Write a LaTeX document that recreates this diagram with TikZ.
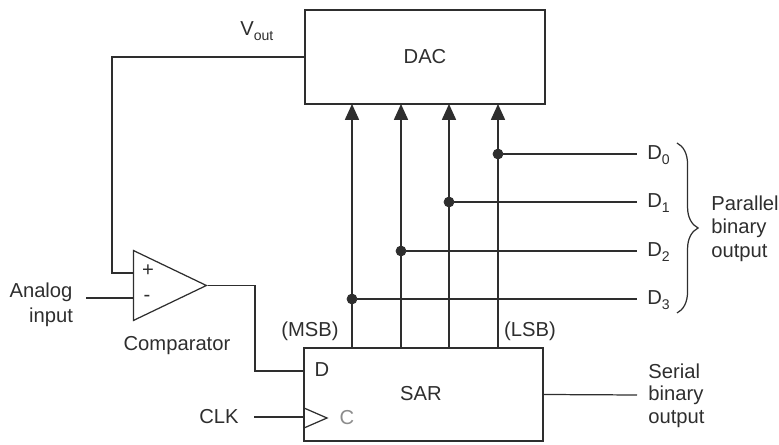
\documentclass[tikz,border=0pt]{standalone}
\usepackage{fontspec}
\setmainfont{Liberation Sans}
\usepackage{pgf, tikz}
\usetikzlibrary{arrows.meta,shapes.geometric,decorations.pathreplacing}
\pgfdeclarelayer{edgelayer}
\pgfdeclarelayer{nodelayer}
\pgfsetlayers{edgelayer,nodelayer,main}
\definecolor{ink}{HTML}{2E2E2E}
\newcommand{\lowsub}[1]{\raisebox{-3.2pt}{\fontsize{8}{9}\selectfont #1}}
\tikzstyle{edge}=[draw=ink, line width=0.7pt]
\tikzstyle{bus}=[draw=ink, line width=0.7pt, -{Triangle[length=9pt,width=8pt]}]
\tikzstyle{block}=[rectangle, draw=ink, fill=white, line width=0.7pt, minimum width=4.8cm, minimum height=1.88cm, inner sep=0pt]
\tikzstyle{opamp}=[isosceles triangle, isosceles triangle stretches, shape border rotate=0, draw=ink, fill=white, line width=0.7pt, minimum width=1.4cm, minimum height=1.46cm, inner sep=0pt]
\tikzstyle{tap}=[circle, fill=ink, draw=ink, minimum size=0.2cm, inner sep=0pt]
\tikzstyle{label}=[text=ink, font=\fontsize{11.5}{13}\selectfont, inner sep=0pt]

\begin{document}
\begin{tikzpicture}[x=0.02cm,y=-0.02cm]
	\useasboundingbox (0,0) rectangle (779,445);
	\begin{pgfonlayer}{nodelayer}
		\node [style=block] (dac) at (425,57) {};
		\node [style=block, minimum width=4.78cm, minimum height=1.86cm] (sar) at (423.5,394.5) {};
		\node [style=opamp, anchor=apex] (cmp) at (208,285.5) {};
		\node [style=tap] (t0) at (498,154) {};
		\node [style=tap] (t1) at (449,202) {};
		\node [style=tap] (t2) at (401,251) {};
		\node [style=tap] (t3) at (352,299) {};
		\node [style=label] (daclabel) at (425,57) {DAC};
		\node [style=label] (sarlabel) at (421,394) {SAR};
		\node [style=label, anchor=west] (vout) at (240,31) {V\lowsub{out}};
		\node [style=label] (plus) at (148,271) {+};
		\node [style=label] (minus) at (147,298) {-};
		\node [style=label] (analog) at (41,292) {Analog};
		\node [style=label] (input) at (51,317) {input};
		\node [style=label] (comparator) at (177,346) {Comparator};
		\node [style=label] (msb) at (310,331) {(MSB)};
		\node [style=label] (lsb) at (530,331) {(LSB)};
		\node [style=label] (d) at (322,370) {D};
		\node [style=label, text=ink!55] (c) at (347,418) {C};
		\node [style=label] (clk) at (219,417) {CLK};
		\node [style=label, anchor=west] (d0) at (647,155) {D\lowsub{0}};
		\node [style=label, anchor=west] (d1) at (647,203) {D\lowsub{1}};
		\node [style=label, anchor=west] (d2) at (647,252) {D\lowsub{2}};
		\node [style=label, anchor=west] (d3) at (647,300) {D\lowsub{3}};
		\node [style=label, anchor=west] (parallel) at (711,203) {Parallel};
		\node [style=label, anchor=west] (binary) at (711,228) {binary};
		\node [style=label, anchor=west] (output) at (711,253) {output};
		\node [style=label, anchor=west] (serial) at (648,371) {Serial};
		\node [style=label, anchor=west] (serialbin) at (648,395) {binary};
		\node [style=label, anchor=west] (serialout) at (648,419) {output};
	\end{pgfonlayer}
	\coordinate (b0) at (498,348);
	\coordinate (b1) at (449,348);
	\coordinate (b2) at (401,348);
	\coordinate (b3) at (352,348);
	\coordinate (a0) at (498,104);
	\coordinate (a1) at (449,104);
	\coordinate (a2) at (401,104);
	\coordinate (a3) at (352,104);
	\coordinate (e0) at (637,154);
	\coordinate (e1) at (637,202);
	\coordinate (e2) at (637,251);
	\coordinate (e3) at (637,299);
	\coordinate (in0) at (135,273);
	\coordinate (in1) at (135,298);
	\coordinate (ana) at (86,298);
	\coordinate (clkin) at (254,417);
	\coordinate (clkend) at (304,417);
	\coordinate (dend) at (304,371);
	\coordinate (serialend) at (637,395);
	\coordinate (ck0) at (304,408);
	\coordinate (ck1) at (327,418);
	\coordinate (ck2) at (304,428);
	\coordinate (brtop) at (677,143);
	\coordinate (brbot) at (677,313);
	\begin{pgfonlayer}{edgelayer}
		\draw [style=bus] (b0) to (a0);
		\draw [style=bus] (b1) to (a1);
		\draw [style=bus] (b2) to (a2);
		\draw [style=bus] (b3) to (a3);
		\draw [style=edge] (t0) to (e0);
		\draw [style=edge] (t1) to (e1);
		\draw [style=edge] (t2) to (e2);
		\draw [style=edge] (t3) to (e3);
		\draw [style=edge] (dac.west) -| (112,273) to (in0);
		\draw [style=edge] (ana) to (in1);
		\draw [style=edge] (cmp.apex) -| (255,371) to (dend);
		\draw [style=edge] (clkin) to (clkend);
		\draw [style=edge] (sar.east) to (serialend);
	\end{pgfonlayer}
	\draw [style=edge] (ck0) to (ck1) to (ck2);
	\draw [style=edge, decorate, decoration={brace, amplitude=12pt}] (brtop) to (brbot);
\end{tikzpicture}
\end{document}
